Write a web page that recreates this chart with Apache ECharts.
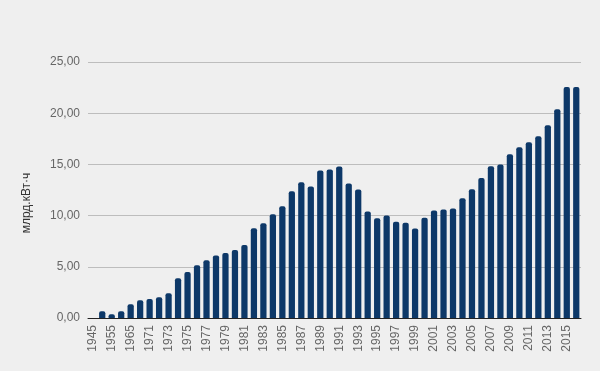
<!DOCTYPE html>
<html><head><meta charset="utf-8">
<script src="https://cdn.jsdelivr.net/npm/echarts@6/dist/echarts.min.js"></script>
<style>html,body{margin:0;padding:0;background:#efefef}#c{width:600px;height:371px}</style>
</head><body><div id="c"></div>
<script>
const categories = ['1945','1950','1955','1960','1965','1970','1971','1972','1973','1974','1975','1976','1977','1978','1979','1980','1981','1982','1983','1984','1985','1986','1987','1988','1989','1990','1991','1992','1993','1994','1995','1996','1997','1998','1999','2000','2001','2002','2003','2004','2005','2006','2007','2008','2009','2010','2011','2012','2013','2014','2015','2016'];
const values = [0,0.65,0.36,0.65,1.34,1.73,1.86,2.03,2.42,3.89,4.48,5.16,5.65,6.11,6.34,6.63,7.12,8.77,9.25,10.13,10.91,12.38,13.26,12.84,14.41,14.5,14.8,13.13,12.55,10.39,9.73,10.0,9.41,9.31,8.75,9.8,10.49,10.59,10.69,11.7,12.58,13.66,14.83,15.0,15.98,16.67,17.16,17.75,18.82,20.39,22.55,22.55];
const yTicks = {min:0, max:25, interval:5};
const yName = 'млрд.кВт·ч';
const chart = echarts.init(document.getElementById('c'), null, {renderer:'canvas'});
chart.setOption({
  backgroundColor:'#efefef',
  animation:false,
  grid:{left:88,right:19,top:62,bottom:53,containLabel:false},
  graphic:[{type:'text',left:20,top:173,rotation:Math.PI/2,
    style:{text:yName,fill:'#333',font:'12px "Liberation Sans", Arial, sans-serif',textAlign:'center',textVerticalAlign:'middle'},
    x:27,y:203,left:null,top:null}],
  xAxis:{type:'category',data:categories,
    axisLine:{show:true,lineStyle:{color:'#222',width:1}},
    axisTick:{show:false},
    axisLabel:{interval:1,rotate:90,color:'#666',fontSize:12,fontFamily:'"Liberation Sans", Arial, sans-serif',margin:7}},
  yAxis:{type:'value',min:yTicks.min,max:yTicks.max,interval:yTicks.interval,
    axisLine:{show:false},axisTick:{show:false},
    splitLine:{lineStyle:{color:'#bdbdbd',width:1}},
    axisLabel:{color:'#666',fontSize:12,fontFamily:'"Liberation Sans", Arial, sans-serif',margin:8,
      formatter:v=>v.toFixed(2).replace('.',',')}},
  series:[{type:'bar',data:values,barWidth:'66%',
    itemStyle:{color:'#0d3868',borderRadius:[2,2,0,0]}}]
});
</script></body></html>
